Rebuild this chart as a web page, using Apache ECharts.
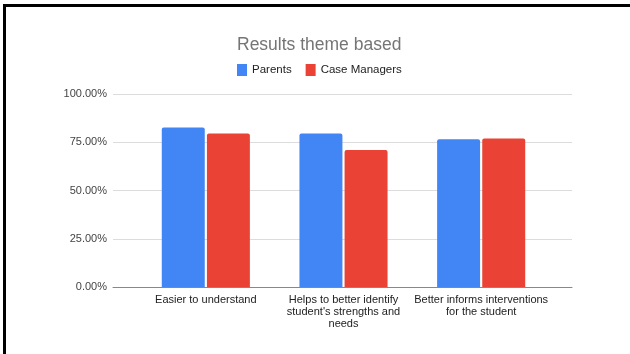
<!DOCTYPE html>
<html><head><meta charset="utf-8">
<script src="https://cdn.jsdelivr.net/npm/echarts@6/dist/echarts.min.js"></script>
<style>
html,body{margin:0;padding:0;background:#fff;}
#frame{position:absolute;left:3px;top:4px;width:627px;height:350px;border-left:3px solid #000;border-top:3px solid #000;box-sizing:border-box;}
#c{position:absolute;left:0;top:0;width:630px;height:354px;}
</style></head>
<body>
<div id="c"></div>
<div id="frame"></div>
<script>
const categories = ["Easier to understand", "Helps to better identify\nstudent's strengths and\nneeds", "Better informs interventions\nfor the student"];
const parents = [82.6, 79.5, 76.5];
const caseManagers = [79.5, 71.0, 77.0];
const yTicks = [0, 25, 50, 75, 100];

const FONT = 'Liberation Sans, Arial, sans-serif';
const chart = echarts.init(document.getElementById('c'));
chart.setOption({
  animation: false,
  textStyle: {fontFamily: FONT},
  title: {text: 'Results theme based', left: 232, top: 31,
    textStyle: {fontSize: 17.5, fontWeight: 'normal', color: '#757575', fontFamily: FONT}},
  legend: {top: 59, left: 232, itemWidth: 10, itemHeight: 12, itemGap: 14, icon: 'rect',
    textStyle: {fontSize: 11.5, color: '#222'}, data: ['Parents', 'Case Managers']},
  grid: [
    {left: 113, right: 58, top: 94, bottom: 67},
    {left: 137, right: 80, top: 94, bottom: 67}
  ],
  xAxis: [
    {type: 'category', gridIndex: 0, data: categories,
      axisLine: {lineStyle: {color: '#888', width: 1}}, axisTick: {show: false}, axisLabel: {show: false}},
    {type: 'category', gridIndex: 1, data: categories,
      axisLine: {show: false}, axisTick: {show: false},
      axisLabel: {fontSize: 11, color: '#222', lineHeight: 12, margin: 7, interval: 0}}
  ],
  yAxis: [
    {type: 'value', gridIndex: 0, min: yTicks[0], max: yTicks[yTicks.length-1], interval: 25,
      axisLine: {show: false}, axisTick: {show: false},
      splitLine: {lineStyle: {color: '#dcdcdc'}},
      axisLabel: {fontSize: 11, color: '#444', margin: 6, formatter: v => v.toFixed(2) + '%'}},
    {type: 'value', gridIndex: 1, min: yTicks[0], max: yTicks[yTicks.length-1], interval: 25, show: false}
  ],
  series: [
    {name: 'Parents', type: 'bar', xAxisIndex: 1, yAxisIndex: 1, data: parents, z: 3,
      itemStyle: {color: '#4285F4', borderRadius: [2,2,0,0]}, barGap: '5%', barCategoryGap: '36%'},
    {name: 'Case Managers', type: 'bar', xAxisIndex: 1, yAxisIndex: 1, data: caseManagers, z: 3,
      itemStyle: {color: '#EA4335', borderRadius: [2,2,0,0]}}
  ]
});
</script>
</body></html>
